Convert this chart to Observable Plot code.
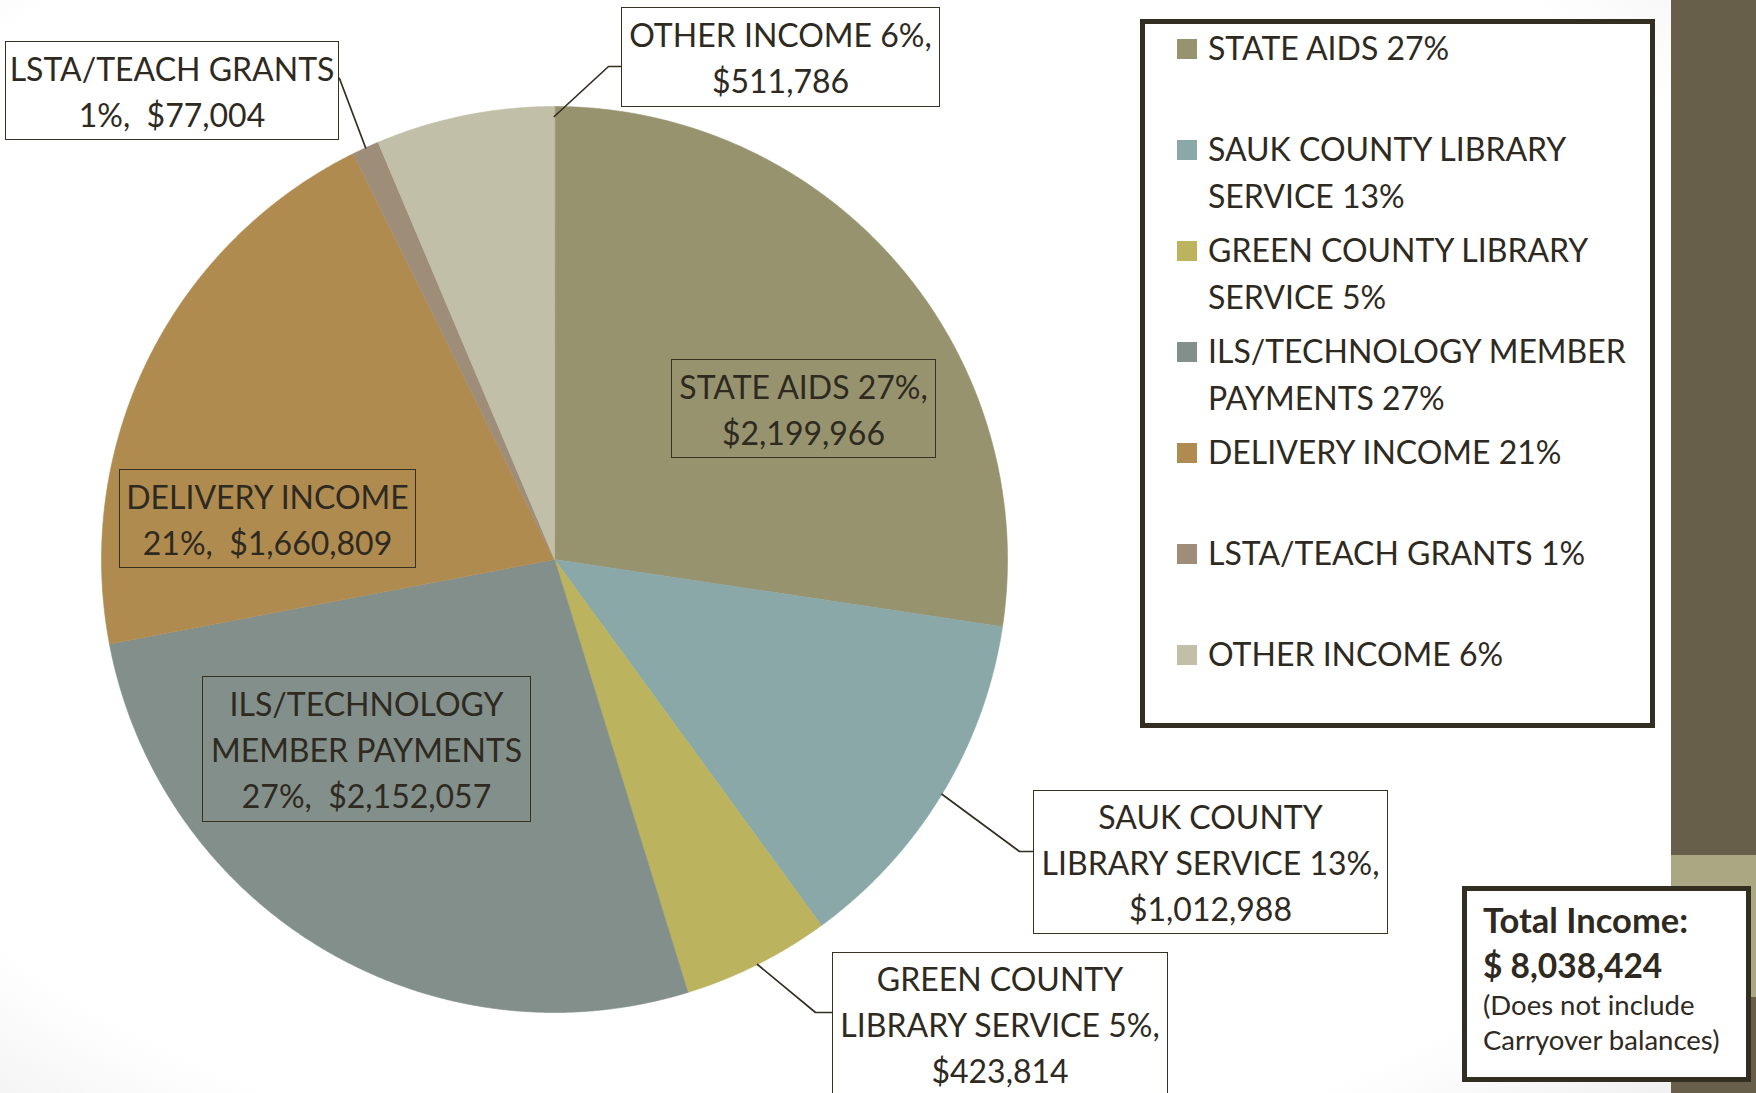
<!DOCTYPE html>
<html><head><meta charset="utf-8">
<script src="https://cdn.jsdelivr.net/npm/d3@7"></script>
<script src="https://cdn.jsdelivr.net/npm/@observablehq/plot@0.6"></script>
<style>
html,body{margin:0;padding:0;}
body{width:1756px;height:1093px;overflow:hidden;position:relative;font-family:Lato,"Open Sans",sans-serif;color:#2f2a1f;
  background: radial-gradient(ellipse 85% 90% at 45% 45%, #ffffff 70%, #e2e2e2 100%);}
#chart{position:absolute;left:0;top:0;}
.box{position:absolute;box-sizing:border-box;border:1.6px solid #37321f;display:flex;align-items:center;justify-content:center;text-align:center;font-size:32px;line-height:46px;white-space:pre;padding-top:2px;}
.txt{position:absolute;white-space:pre;line-height:1.2;}
.bar{position:absolute;left:1671px;width:85px;}
</style></head>
<body>
<div class="bar" style="top:0;height:855px;background:#675f49"></div>
<div class="bar" style="top:855px;height:142px;background:#aaa783"></div>
<div class="bar" style="top:997px;height:96px;background:#675f49"></div>
<div id="chart"></div>
<script>
// ---- data ----
const categories = ["STATE AIDS","SAUK COUNTY LIBRARY SERVICE","GREEN COUNTY LIBRARY SERVICE","ILS/TECHNOLOGY MEMBER PAYMENTS","DELIVERY INCOME","LSTA/TEACH GRANTS","OTHER INCOME"];
const amounts = [2199966, 1012988, 423814, 2152057, 1660809, 77004, 511786];
const colors = ["#97936f","#8aa8a8","#bbb35e","#838f8a","#b08b50","#9d8d79","#c1bfa8"];
const labelNames = ["STATE AIDS","SAUK COUNTY\nLIBRARY SERVICE","GREEN COUNTY\nLIBRARY SERVICE","ILS/TECHNOLOGY\nMEMBER PAYMENTS","DELIVERY INCOME","LSTA/TEACH GRANTS","OTHER INCOME"];
const labelStyle = ["inline","inline","inline","newline","newline","newline","inline"];
const legendNames = ["STATE AIDS","SAUK COUNTY LIBRARY\nSERVICE","GREEN COUNTY LIBRARY\nSERVICE","ILS/TECHNOLOGY MEMBER\nPAYMENTS","DELIVERY INCOME","LSTA/TEACH GRANTS","OTHER INCOME"];
const totalLines = ["Total Income:", "$ 8,038,424", "(Does not include", "Carryover balances)"];

// ---- layout ----
const W = 1756, H = 1093;
const CX = 554, CY = 559, R = 453;
// label boxes: [left, top, width, height]
const boxes = [
  [671, 359, 265, 99],
  [1033, 790, 355, 144],
  [832, 952, 336, 144],
  [202, 676, 329, 146],
  [119, 469, 297, 99],
  [5, 41, 334, 99],
  [621, 7, 319, 100]
];
const boxFill = ["none","#fff","#fff","none","none","#fff","#fff"];
// leader elbows (pixel) for outside labels; start computed on the rim
const leaders = {
  1: {angle: "mid", pts: [[1019, 851], [1033, 851]]},
  2: {angle: "mid", pts: [[815, 1012], [832, 1012]]},
  5: {angle: "mid", pts: [[339, 78]]},
  6: {angle: "end", pts: [[608, 66], [621, 66]]}
};

const total = d3.sum(amounts);
const pct = amounts.map(v => Math.round(v / total * 100) + "%");
const money = amounts.map(v => "$" + d3.format(",")(v));

const arcs = d3.pie().sort(null).value(d => d)(amounts);
const rim = (a, r = R) => ({x: CX + r * Math.sin(a), y: CY - r * Math.cos(a)});

const sliceMarks = arcs.map((p, i) => {
  const pts = [{x: CX, y: CY}];
  const n = Math.max(4, Math.ceil((p.endAngle - p.startAngle) / 0.004));
  for (let k = 0; k <= n; k++) pts.push(rim(p.startAngle + (p.endAngle - p.startAngle) * k / n));
  return Plot.line(pts, {x: "x", y: "y", fill: colors[i], stroke: colors[i], strokeWidth: 0.6, curve: "linear-closed"});
});

const leaderPts = [];
for (const [k, L] of Object.entries(leaders)) {
  const p = arcs[+k];
  const a = L.angle === "mid" ? (p.startAngle + p.endAngle) / 2 : p.endAngle - 0.0005;
  const s = rim(a, L.angle === "mid" ? R : R - 10);
  leaderPts.push({id: k, x: s.x, y: s.y});
  for (const [x, y] of L.pts) leaderPts.push({id: k, x, y});
}

const chart = Plot.plot({
  width: W, height: H, margin: 0,
  x: {domain: [0, W], range: [0, W], axis: null},
  y: {domain: [0, H], range: [0, H], axis: null},
  style: {background: "transparent", overflow: "visible"},
  marks: [
    ...sliceMarks,
    Plot.line(leaderPts, {x: "x", y: "y", z: "id", stroke: "#332e22", strokeWidth: 1.7})
  ]
});
document.getElementById("chart").appendChild(chart);

// data labels
arcs.forEach((p, i) => {
  const [l, t, w, h] = boxes[i];
  const d = document.createElement("div");
  d.className = "box";
  Object.assign(d.style, {left: l + "px", top: t + "px", width: w + "px", height: h + "px", background: boxFill[i] === "none" ? "transparent" : boxFill[i]});
  d.textContent = labelStyle[i] === "inline"
    ? `${labelNames[i]} ${pct[i]},\n${money[i]}`
    : `${labelNames[i]}\n${pct[i]},  ${money[i]}`;
  document.body.appendChild(d);
});

// legend
const leg = document.createElement("div");
Object.assign(leg.style, {position: "absolute", left: "1140px", top: "19px", width: "515px", height: "709px", boxSizing: "border-box", border: "5px solid #332e22", background: "#fff"});
document.body.appendChild(leg);
const fs = 32, asc = 0.987;
categories.forEach((c, i) => {
  const base = 60 + 101 * i;
  const sw = document.createElement("div");
  Object.assign(sw.style, {position: "absolute", left: "1177px", top: (base - 21) + "px", width: "20px", height: "20px", background: colors[i]});
  document.body.appendChild(sw);
  const t = document.createElement("div");
  t.className = "txt";
  Object.assign(t.style, {left: "1208px", fontSize: fs + "px", lineHeight: "47px"});
  t.style.top = (base - (47 - 1.2 * fs) / 2 - asc * fs) + "px";
  t.textContent = `${legendNames[i]} ${pct[i]}`;
  document.body.appendChild(t);
});

// total box
const tb = document.createElement("div");
Object.assign(tb.style, {position: "absolute", left: "1462px", top: "886px", width: "289px", height: "196px", boxSizing: "border-box", border: "5px solid #332e22", background: "#fff"});
document.body.appendChild(tb);
const tl = [[933, 34.5, 700], [978, 33.5, 700], [1015, 27.5, 400], [1050, 27.5, 400]];
totalLines.forEach((s, i) => {
  const [b, size, wt] = tl[i];
  const t = document.createElement("div");
  t.className = "txt";
  Object.assign(t.style, {left: "1483px", top: (b - asc * size) + "px", fontSize: size + "px", fontWeight: wt});
  t.textContent = s;
  document.body.appendChild(t);
});
</script>
</body></html>
